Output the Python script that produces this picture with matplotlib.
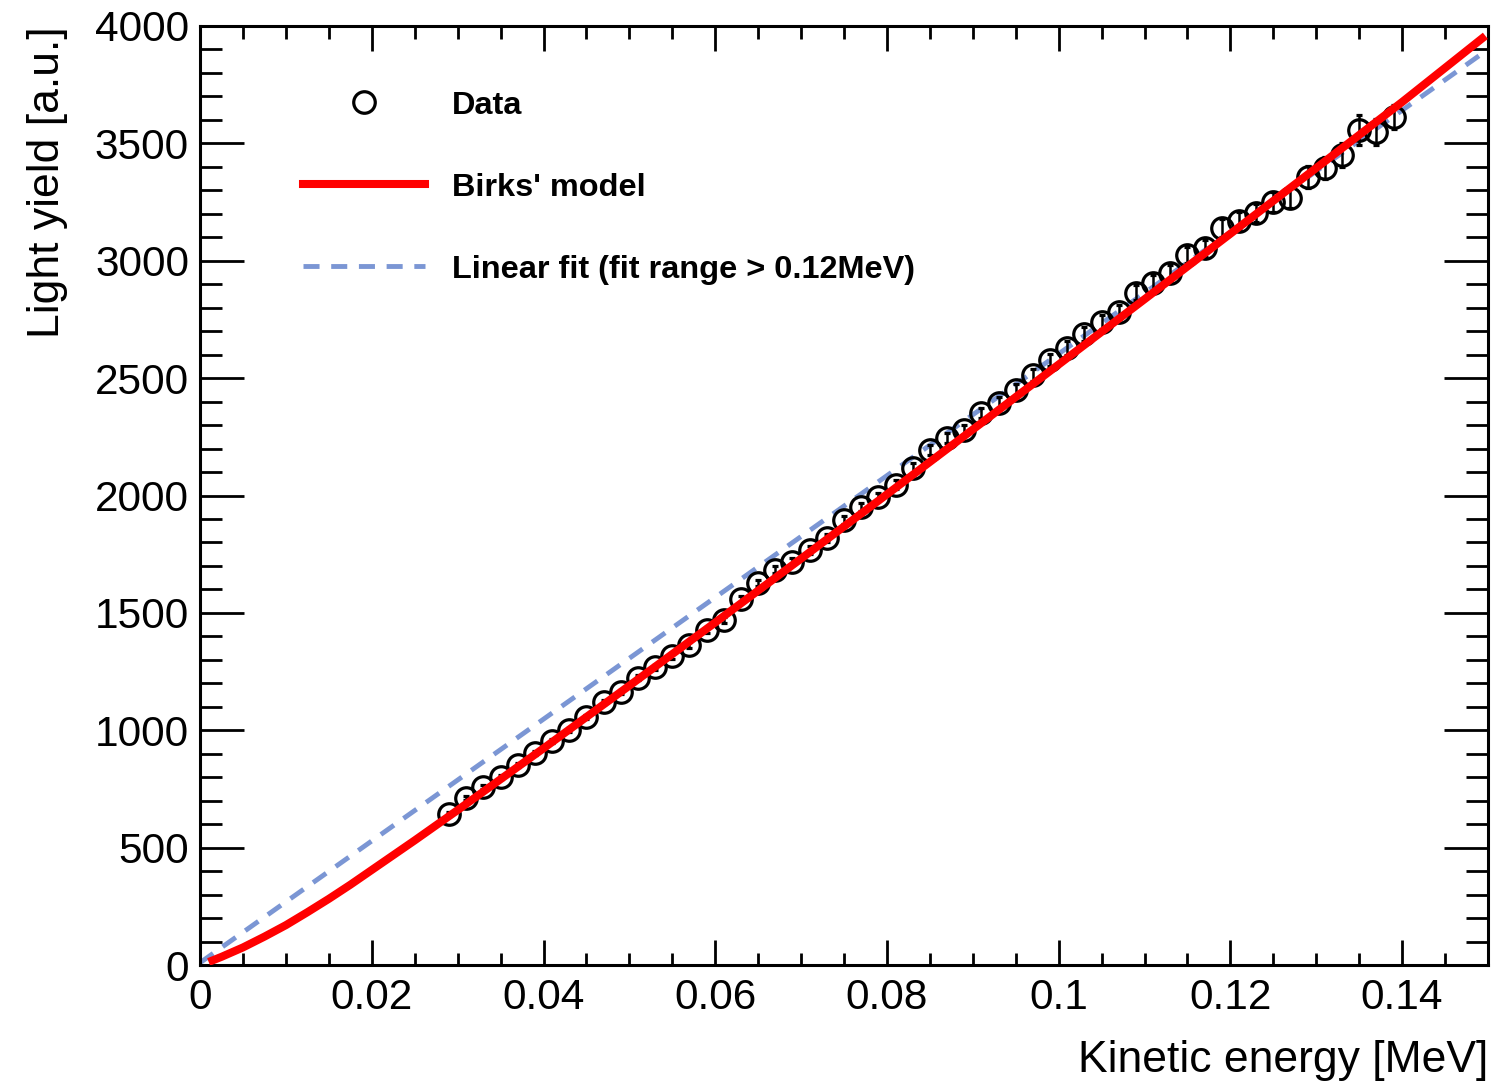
import matplotlib
matplotlib.use("Agg")
import matplotlib.pyplot as plt
from matplotlib.ticker import MultipleLocator
from matplotlib.lines import Line2D

plt.rcParams['font.family'] = ['Liberation Sans', 'DejaVu Sans']

# measured points
energy = [0.029, 0.031, 0.033, 0.035, 0.037, 0.039, 0.041, 0.043, 0.045, 0.047,
          0.049, 0.051, 0.053, 0.055, 0.057, 0.059, 0.061, 0.063, 0.065, 0.067,
          0.069, 0.071, 0.073, 0.075, 0.077, 0.079, 0.081, 0.083, 0.085, 0.087,
          0.089, 0.091, 0.093, 0.095, 0.097, 0.099, 0.101, 0.103, 0.105, 0.107,
          0.109, 0.111, 0.113, 0.115, 0.117, 0.119, 0.121, 0.123, 0.125, 0.127,
          0.129, 0.131, 0.133, 0.135, 0.137, 0.139]
light = [643, 711, 758, 801, 852, 903, 954, 1001, 1056, 1120,
         1163, 1223, 1269, 1316, 1363, 1427, 1470, 1559, 1627, 1683,
         1717, 1768, 1819, 1896, 1951, 1994, 2045, 2117, 2194, 2245,
         2279, 2351, 2394, 2449, 2513, 2577, 2628, 2688, 2739, 2782,
         2863, 2905, 2948, 3025, 3054, 3139, 3168, 3203, 3250, 3267,
         3357, 3395, 3450, 3557, 3548, 3612]
light_err = [7, 7, 8, 8, 8, 9, 9, 9, 10, 10,
             10, 11, 11, 12, 12, 13, 13, 14, 14, 15,
             15, 16, 16, 17, 18, 18, 19, 20, 20, 21,
             22, 23, 24, 25, 26, 27, 28, 29, 30, 31,
             32, 33, 34, 35, 36, 38, 39, 40, 42, 44,
             46, 48, 50, 62, 56, 52]

# Birks' model curve
birks_e = [0.001, 0.0025, 0.005, 0.0075, 0.01, 0.0125, 0.015, 0.0175, 0.02,
           0.025, 0.03, 0.04, 0.05, 0.06, 0.07, 0.08, 0.09, 0.10, 0.11,
           0.12, 0.13, 0.14, 0.1497]
birks_l = [13, 35, 75, 121, 170, 225, 282, 342, 405,
           531, 660, 923, 1190, 1459, 1731, 2005, 2281, 2558, 2836,
           3115, 3395, 3676, 3958]

# linear fit line
lin_e = [0.0, 0.15]
lin_l = [10, 3900]

fig = plt.figure(figsize=(15.1, 10.82), dpi=100)
ax = fig.add_axes([0.1325, 0.1081, 0.8529, 0.8679])

ax.plot(lin_e, lin_l, color='#7b96d4', lw=3.5, ls=(0, (3.3, 2.4)), zorder=2)
ax.errorbar(energy, light, yerr=light_err, fmt='o', mfc='none', mec='black',
            ms=15.5, mew=2.3, ecolor='black', elinewidth=1.8, capsize=2.5,
            capthick=1.8, zorder=3)
ax.plot(birks_e, birks_l, color='#ff0000', lw=5.8, zorder=4,
        solid_capstyle='butt')

ax.set_xlim(0, 0.15)
ax.set_ylim(0, 4000)
ax.xaxis.set_minor_locator(MultipleLocator(0.005))
ax.yaxis.set_major_locator(MultipleLocator(500))
ax.yaxis.set_minor_locator(MultipleLocator(100))
ax.set_xticks([0, 0.02, 0.04, 0.06, 0.08, 0.1, 0.12, 0.14])
ax.set_xticklabels(['0', '0.02', '0.04', '0.06', '0.08', '0.1', '0.12', '0.14'])

ax.tick_params(which='both', direction='in', top=True, right=True,
               width=2, labelsize=30.5)
ax.tick_params(axis='x', which='major', length=18, pad=9)
ax.tick_params(axis='x', which='minor', length=9)
ax.tick_params(axis='y', which='major', length=32, pad=8)
ax.tick_params(axis='y', which='minor', length=16)
for s in ax.spines.values():
    s.set_linewidth(2.2)

ax.set_xlabel('Kinetic energy [MeV]', fontsize=32, loc='right', labelpad=16)
ax.set_ylabel('Light yield [a.u.]', fontsize=32, loc='top', labelpad=19)

handles = [
    Line2D([], [], ls='none', marker='o', mfc='none', mec='black', ms=15.5, mew=2.3),
    Line2D([], [], color='#ff0000', lw=5.8),
    Line2D([], [], color='#7b96d4', lw=3.5, ls=(0, (3.3, 2.4))),
]
labels = ['Data', "Birks' model", 'Linear fit (fit range > 0.12MeV)']
ax.legend(handles, labels, loc='upper left', bbox_to_anchor=(0.08, 0.931),
          frameon=False, borderpad=0, borderaxespad=0,
          prop={'weight': 'bold', 'size': 23.4}, handlelength=3.75,
          handletextpad=0.83, labelspacing=1.6)

fig.savefig('out.png', dpi=100)
